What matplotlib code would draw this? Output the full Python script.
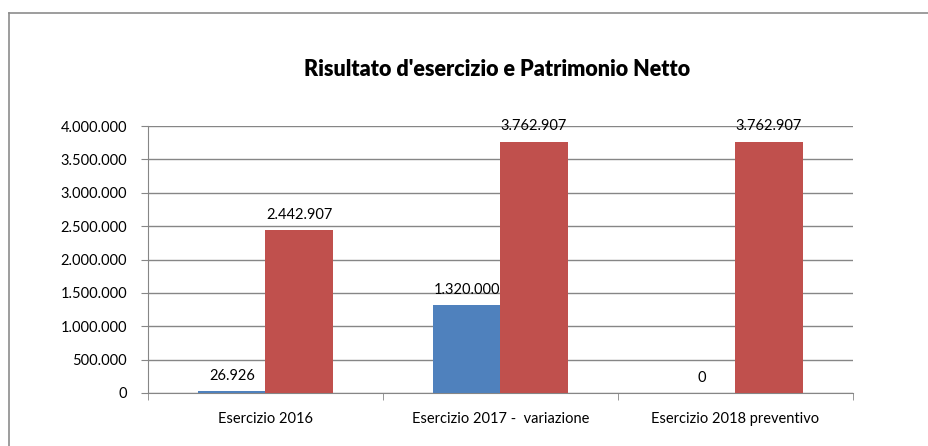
import matplotlib
matplotlib.use('Agg')
import matplotlib.pyplot as plt
from matplotlib.lines import Line2D
from matplotlib.ticker import FuncFormatter
import numpy as np

plt.rcParams['font.family'] = ['Lato', 'DejaVu Sans']

categories = ['Esercizio 2016', 'Esercizio 2017 -  variazione', 'Esercizio 2018 preventivo']
risultato = [26926, 1320000, 0]
patrimonio = [2442907, 3762907, 3762907]
yticks = np.arange(0, 4000001, 500000)

BLUE = '#4F81BD'
RED = '#C0504D'
GRID = '#868686'


def itfmt(v, pos=None):
    return f"{int(round(v)):,}".replace(',', '.')


W, H = 929, 446
fig = plt.figure(figsize=(W / 100, H / 100), dpi=100)
ax = fig.add_axes([148 / W, 1 - 393 / H, (853 - 148) / W, (393 - 126) / H])

x = np.arange(len(categories))
bw = 1 / 3.5
b1 = ax.bar(x - bw / 2, risultato, bw, color=BLUE, zorder=3)
b2 = ax.bar(x + bw / 2, patrimonio, bw, color=RED, zorder=3)

for bars in (b1, b2):
    for r in bars:
        ax.annotate(itfmt(r.get_height()),
                    (r.get_x() + r.get_width() / 2, r.get_height()),
                    xytext=(0, 6), textcoords='offset points',
                    ha='center', va='bottom', fontsize=10.5, zorder=4)

ax.set_xlim(-0.5, len(categories) - 0.5)
ax.set_ylim(0, 4000000)
ax.set_yticks(yticks)
ax.yaxis.set_major_formatter(FuncFormatter(itfmt))
ax.grid(axis='y', color=GRID, linewidth=1, zorder=0)

ax.set_xticks(x)
ax.set_xticklabels(categories, fontsize=10.5)
ax.set_xticks(np.arange(-0.5, len(categories)), minor=True)
ax.tick_params(axis='x', which='major', length=0, pad=14)
ax.tick_params(axis='x', which='minor', length=5, color=GRID)
ax.tick_params(axis='y', length=5, color=GRID, labelsize=10.5, pad=10)

for s in ('top', 'right'):
    ax.spines[s].set_visible(False)
for s in ('left', 'bottom'):
    ax.spines[s].set_color(GRID)

fig.text(497 / W, 1 - 70 / H, "Risultato d'esercizio e Patrimonio Netto",
         ha='center', va='center', fontsize=15.5, fontweight='heavy')

# chart frame
fig.add_artist(Line2D([9 / W, 9 / W], [0, 1 - 13 / H], color='#8c8c8c', lw=1.2,
                      transform=fig.transFigure))
fig.add_artist(Line2D([9 / W, 1], [1 - 13 / H, 1 - 13 / H], color='#8c8c8c', lw=1.2,
                      transform=fig.transFigure))

fig.savefig('out.png', dpi=100)
